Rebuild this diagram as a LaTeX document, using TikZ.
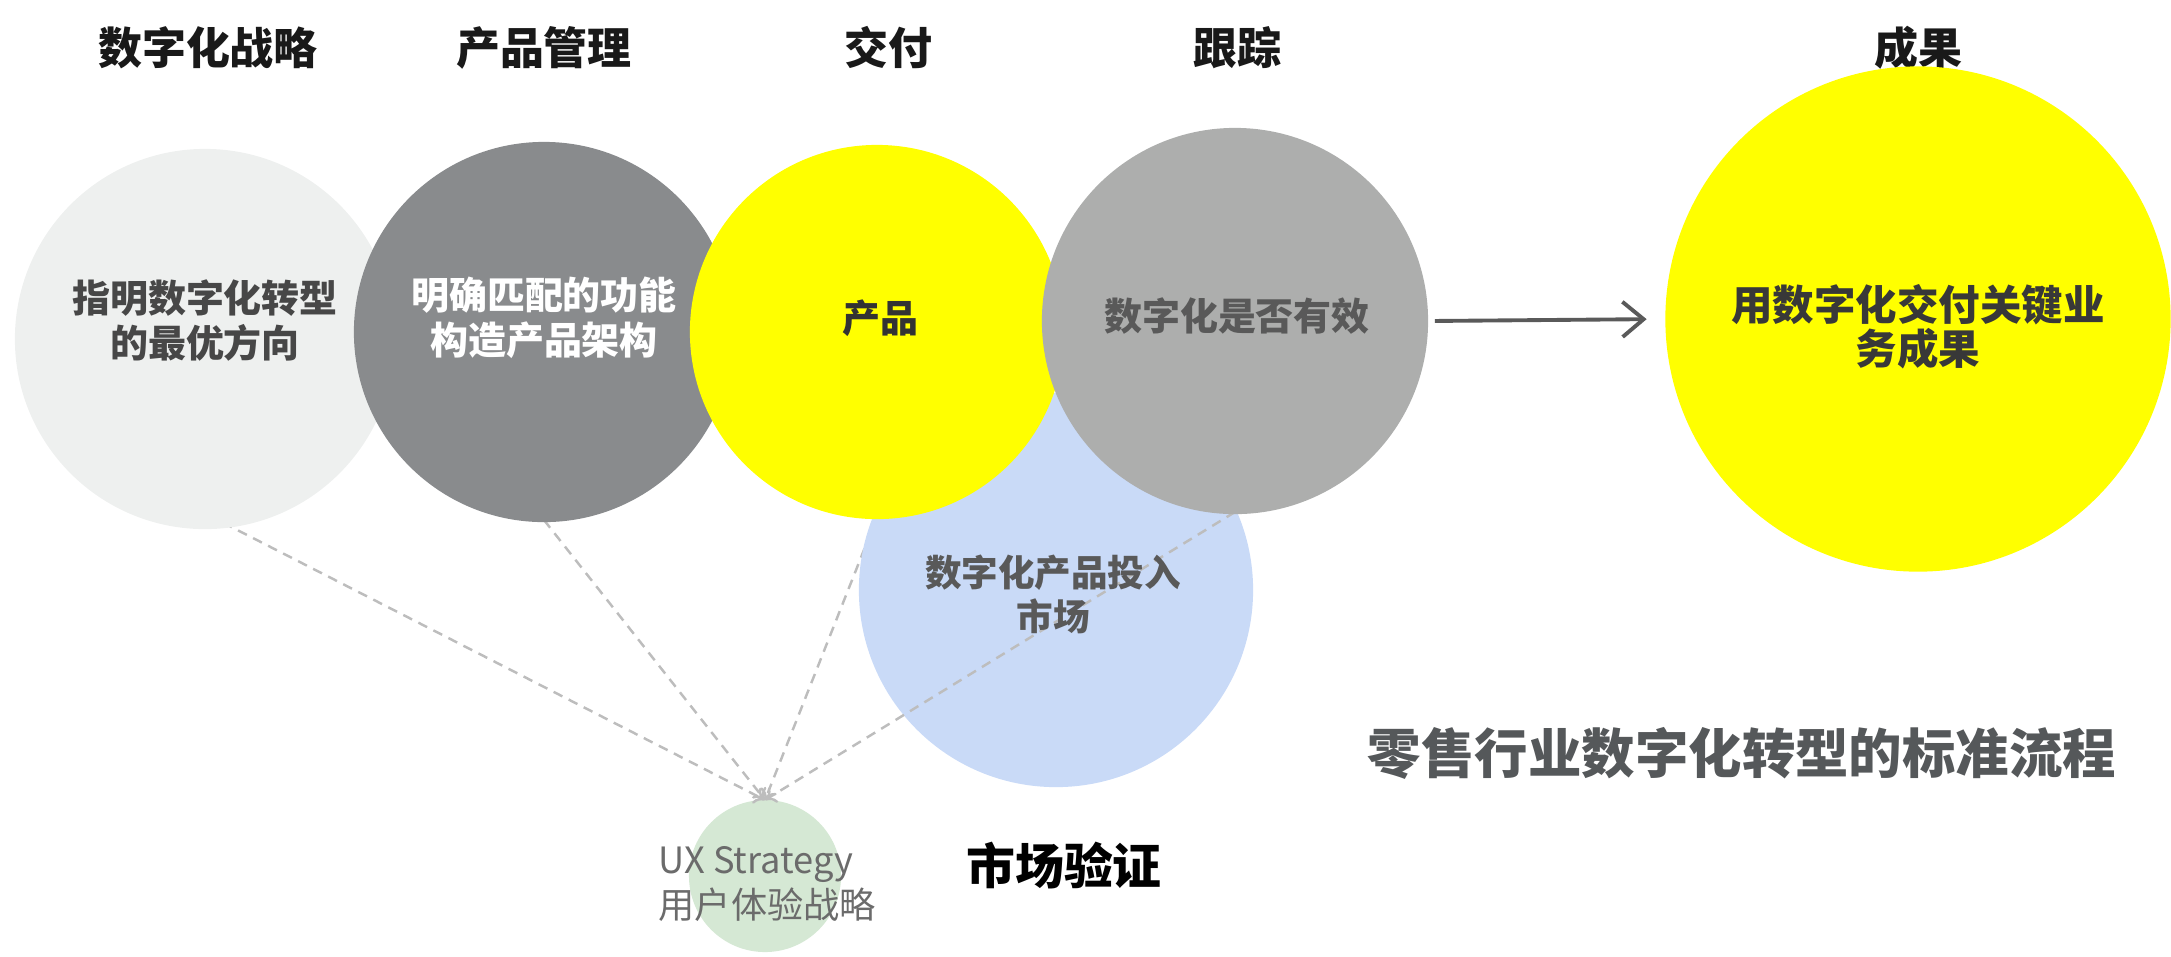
\documentclass[tikz,border=0pt]{standalone}
\usepackage{fontspec}
\setmainfont{Noto Sans CJK SC}
\usetikzlibrary{arrows.meta}
\definecolor{cLight}{HTML}{EEF0EF}
\definecolor{cDark}{HTML}{898B8D}
\definecolor{cYel}{HTML}{FFFF00}
\definecolor{cMid}{HTML}{ADAEAD}
\definecolor{cBlue}{HTML}{C9DAF7}
\definecolor{cGreen}{HTML}{D5E8D4}
\definecolor{cDash}{HTML}{BDBDBD}
\definecolor{cArrow}{HTML}{5A5A5A}
\definecolor{cTitle}{HTML}{55585A}
\tikzset{
  blob/.style={circle, inner sep=0pt, draw=none},
  heading/.style={font=\fontsize{12.5}{15}\selectfont\bfseries, text=black!90},
  intext/.style={font=\fontsize{10.8}{12.8}\selectfont\bfseries, align=center},
  dashlink/.style={draw=cDash, line width=0.7pt, dash pattern=on 2.8pt off 2pt, -{To[length=3pt,width=5pt]}},
  flowarrow/.style={draw=cArrow, line width=1.1pt, -{Straight Barb[length=6pt,width=10pt]}}
}
\begin{document}
\begin{tikzpicture}[x=0.01cm, y=-0.01cm]
\useasboundingbox (0,0) rectangle (2171,956);
% headings
\node[heading] (h1) at (208,48) {数字化战略};
\node[heading] (h2) at (544,48) {产品管理};
\node[heading] (h3) at (888,48) {交付};
\node[heading] (h4) at (1237,48) {跟踪};
\node[heading] (h5) at (1918,48) {成果};
% nodes for geometry (green first as target)
\node[blob, fill=cGreen, minimum size=1.52cm] (ux) at (765,876) {};
\coordinate (uxtop) at (765,800);
\coordinate (s1) at (208,515);
\coordinate (s2) at (544,520);
\coordinate (s3) at (877,517);
\coordinate (s4) at (1235,512);
% dashed lines hidden partly by circles
\draw[dashlink] (s1) -- (uxtop);
\draw[dashlink] (s2) -- (uxtop);
\draw[dashlink] (s3) -- (uxtop);
% circles
\node[blob, fill=cLight, minimum size=3.80cm] (c1) at (205,339) {};
\node[blob, fill=cDark, minimum size=3.80cm] (c2) at (544,332) {};
\node[blob, fill=cBlue, minimum size=3.94cm] (cb) at (1056,590) {};
\draw[dashlink] (s4) -- (uxtop);
\node[blob, fill=cYel, minimum size=3.74cm] (c3) at (877,332) {};
\node[blob, fill=cMid, minimum size=3.86cm] (c4) at (1235,321) {};
\node[blob, fill=cYel, minimum size=5.05cm] (big) at (1918,319) {};
% arrow
\draw[flowarrow, shorten <=0.06cm, shorten >=0.18cm] (c4.east) -- (big.west);
% texts in circles
\node[intext, text=black!72] (t1) at (205,320) {指明数字化转型\\的最优方向};
\node[intext, text=white] (t2) at (544,318) {明确匹配的功能\\构造产品架构};
\node[intext, text=black!80] (t3) at (880,318) {产品};
\node[intext, text=black!65] (t4) at (1237,316) {数字化是否有效};
\node[intext, text=black!65, font=\fontsize{10.4}{12.5}\selectfont\bfseries] (tb) at (1053,594) {数字化产品投入\\市场};
\node[intext, text=black!78, font=\fontsize{11.8}{12.6}\selectfont\bfseries] (tbig) at (1918,327) {用数字化交付关键业\\务成果};
% UX strategy label
\node[anchor=west, align=left, text=black!58, font=\fontsize{10.3}{13}\selectfont, inner sep=0pt] (uxt) at (658,884) {UX Strategy\\用户体验战略};
\node[font=\fontsize{13.9}{16}\selectfont\bfseries, text=black] (mv) at (1064,866) {市场验证};
\node[font=\fontsize{15.2}{18}\selectfont\bfseries, text=cTitle] (main) at (1742,753) {零售行业数字化转型的标准流程};
\end{tikzpicture}
\end{document}
